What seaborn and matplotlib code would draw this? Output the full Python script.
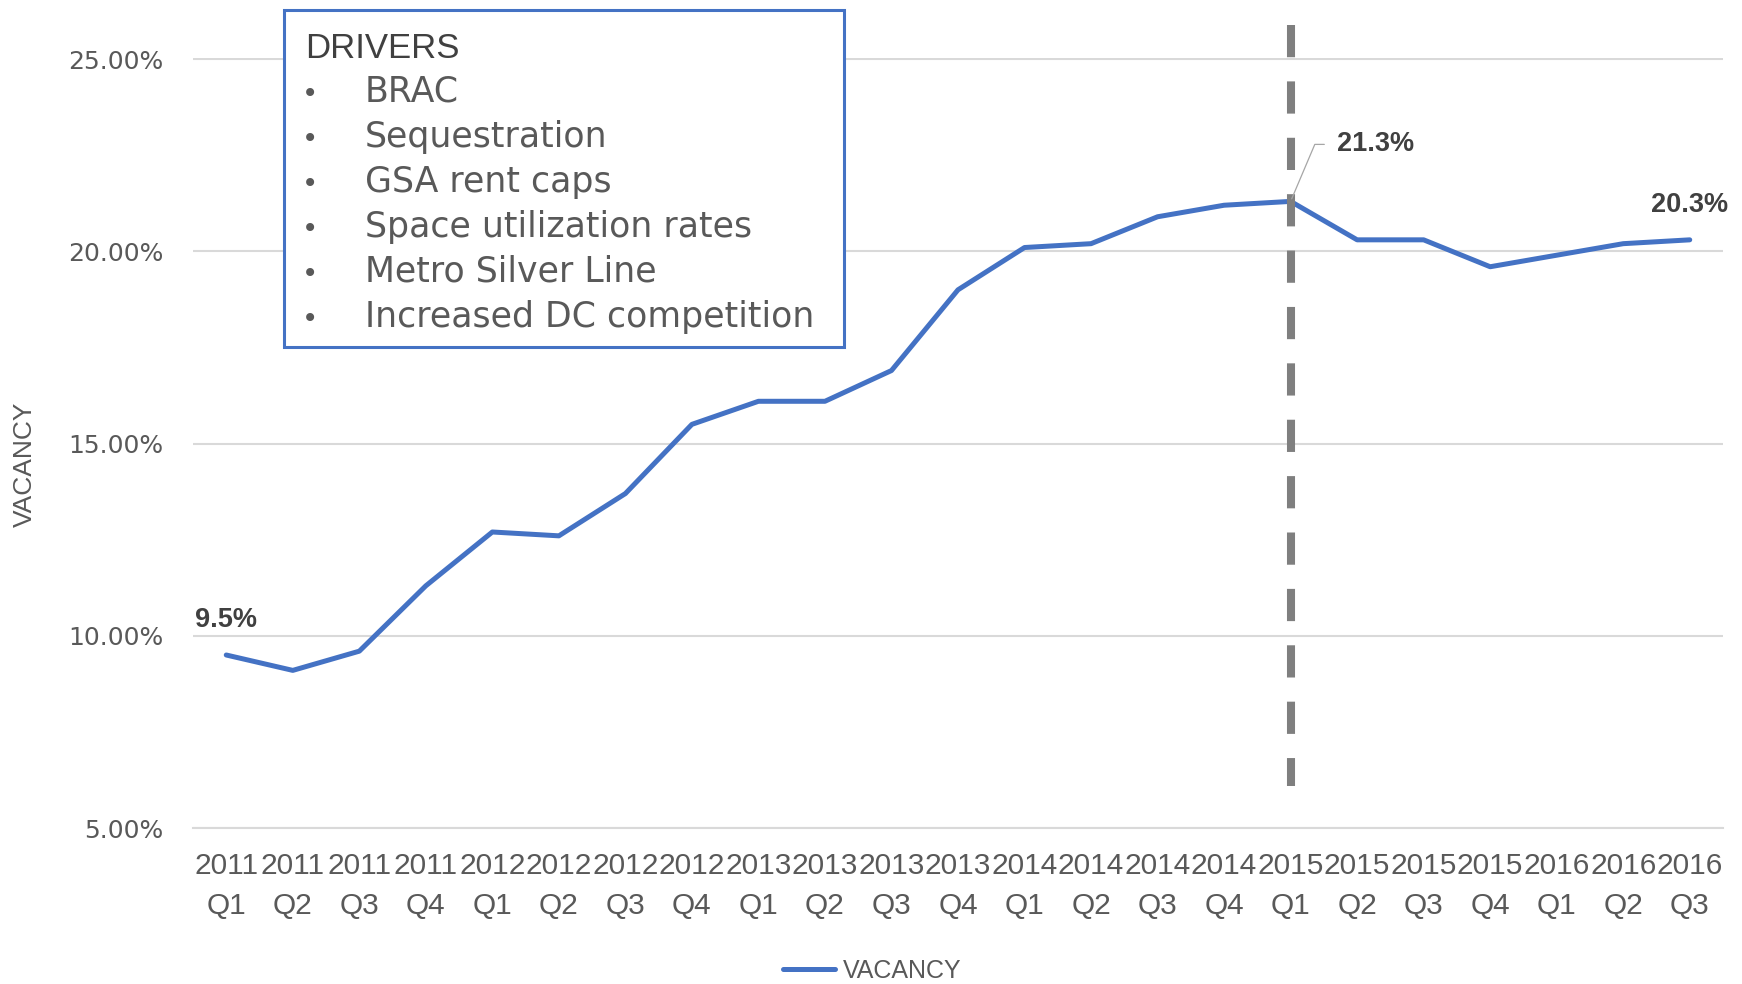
# load packages
import numpy as np
import pandas as pd
import seaborn as sns
import matplotlib.pyplot as plt
from matplotlib.patches import Rectangle
from matplotlib.ticker import PercentFormatter

# quarters on the x axis
quarters = ['2011\nQ1', '2011\nQ2', '2011\nQ3', '2011\nQ4',
            '2012\nQ1', '2012\nQ2', '2012\nQ3', '2012\nQ4',
            '2013\nQ1', '2013\nQ2', '2013\nQ3', '2013\nQ4',
            '2014\nQ1', '2014\nQ2', '2014\nQ3', '2014\nQ4',
            '2015\nQ1', '2015\nQ2', '2015\nQ3', '2015\nQ4',
            '2016\nQ1', '2016\nQ2', '2016\nQ3']
# vacancy rate
vacancy = [0.095, 0.091, 0.096, 0.113, 0.127, 0.126, 0.137, 0.155,
           0.161, 0.161, 0.169, 0.190, 0.201, 0.202, 0.209, 0.212,
           0.213, 0.203, 0.203, 0.196, 0.199, 0.202, 0.203]
y_ticks = [0.05, 0.10, 0.15, 0.20, 0.25]

# the quarter marked with the dashed line and how far that line reaches
marker_quarter = '2015\nQ1'
marker_low = 0.0609
marker_high = 0.2590

# quarters that get a value label
labelled = ['2011\nQ1', '2015\nQ1', '2016\nQ3']

drivers_title = 'DRIVERS'
drivers = ['BRAC', 'Sequestration', 'GSA rent caps', 'Space utilization rates',
           'Metro Silver Line', 'Increased DC competition']

blue = '#4472C4'
grey_text = '#595959'

df = pd.DataFrame({'pos': np.arange(len(quarters)), 'quarter': quarters, 'VACANCY': vacancy})

sns.set_style('white')
plt.rcParams['font.family'] = ['Liberation Sans', 'DejaVu Sans']

W, H = 1742, 984
fig = plt.figure(figsize=(W / 100, H / 100), dpi=100)
ax = fig.add_axes([193 / W, 1 - 828 / H, (1723 - 193) / W, (828 - 58) / H])


# helper to turn pixel positions in the picture into figure fractions
def fpos(x, y):
    return x / W, 1 - y / H


# main vacancy line
sns.lineplot(data=df, x='pos', y='VACANCY', ax=ax, color=blue, lw=3.6,
             label='VACANCY', legend=False, solid_capstyle='round', zorder=3)

# dashed marker line at 2015 Q1
mx = quarters.index(marker_quarter)
ax.plot([mx, mx], [marker_high, marker_low], color='#7f7f7f', lw=5.8,
        dashes=(4, 3), solid_capstyle='butt', dash_capstyle='butt',
        clip_on=False, zorder=4)

# axes styling
ax.set_xlim(-0.5, len(quarters) - 0.5)
ax.set_ylim(0.05, 0.2503)
ax.set_xticks(df['pos'])
ax.set_xticklabels(quarters, fontsize=21.5, color=grey_text, linespacing=1.55)
ax.set_yticks(y_ticks)
ax.yaxis.set_major_formatter(PercentFormatter(1.0, decimals=2))
for t in ax.get_yticklabels():
    t.set_fontfamily('DejaVu Sans')
    t.set_fontsize(18)
    t.set_color(grey_text)
ax.tick_params(axis='both', length=0)
ax.tick_params(axis='x', pad=17)
ax.tick_params(axis='y', pad=21)
ax.grid(axis='y', color='#d9d9d9', lw=1.5)
ax.grid(axis='x', visible=False)
for s in ['left', 'right', 'top']:
    ax.spines[s].set_visible(False)
ax.spines['bottom'].set_color('#d9d9d9')
ax.spines['bottom'].set_linewidth(1.5)
ax.set_xlabel('')
ax.set_ylabel('VACANCY', fontsize=19, color=grey_text)
ax.yaxis.set_label_coords(-(193 - 37) / (1723 - 193), (828 - 464) / (828 - 58))

# value labels
for q in labelled:
    i = quarters.index(q)
    v = vacancy[i]
    if q == marker_quarter:
        ax.annotate(f'{v * 100:.1f}%', xy=(i, v), xytext=(46, 57),
                    textcoords='offset pixels', ha='left', va='center',
                    fontsize=19.5, fontweight='bold', color='#404040', zorder=6,
                    arrowprops=dict(arrowstyle='-', color='#a6a6a6', lw=0.9,
                                    relpos=(0, 0.5), shrinkA=6.5, shrinkB=2,
                                    connectionstyle='angle,angleA=0,angleB=67,rad=0'))
    else:
        ax.annotate(f'{v * 100:.1f}%', xy=(i, v), xytext=(0, 28),
                    textcoords='offset pixels', ha='center', va='baseline',
                    fontsize=19.5, fontweight='bold', color='#404040', zorder=6)

# drivers text box
box = Rectangle(fpos(284, 347), (844 - 284) / W, (347 - 10) / H, transform=fig.transFigure,
                facecolor='white', edgecolor=blue, lw=2.2, zorder=10)
fig.add_artist(box)
fig.text(*fpos(305, 58), drivers_title, fontsize=25, color='#404040', va='baseline', zorder=11)
for k, item in enumerate(drivers):
    yb = 102 + 45 * k
    fig.text(*fpos(310, yb), '\u2022', fontsize=20, color=grey_text, ha='center',
             va='baseline', family='DejaVu Sans', zorder=11)
    fig.text(*fpos(365, yb), item, fontsize=25, color=grey_text, va='baseline',
             family='DejaVu Sans', zorder=11)

# legend at the bottom
handles, labels = ax.get_legend_handles_labels()
leg = fig.legend(handles, labels, loc='center', bbox_to_anchor=fpos(872, 971),
                 frameon=False, fontsize=18, handlelength=2.1, handletextpad=0.3,
                 labelcolor=grey_text)

plt.savefig('out.png', dpi=100)
